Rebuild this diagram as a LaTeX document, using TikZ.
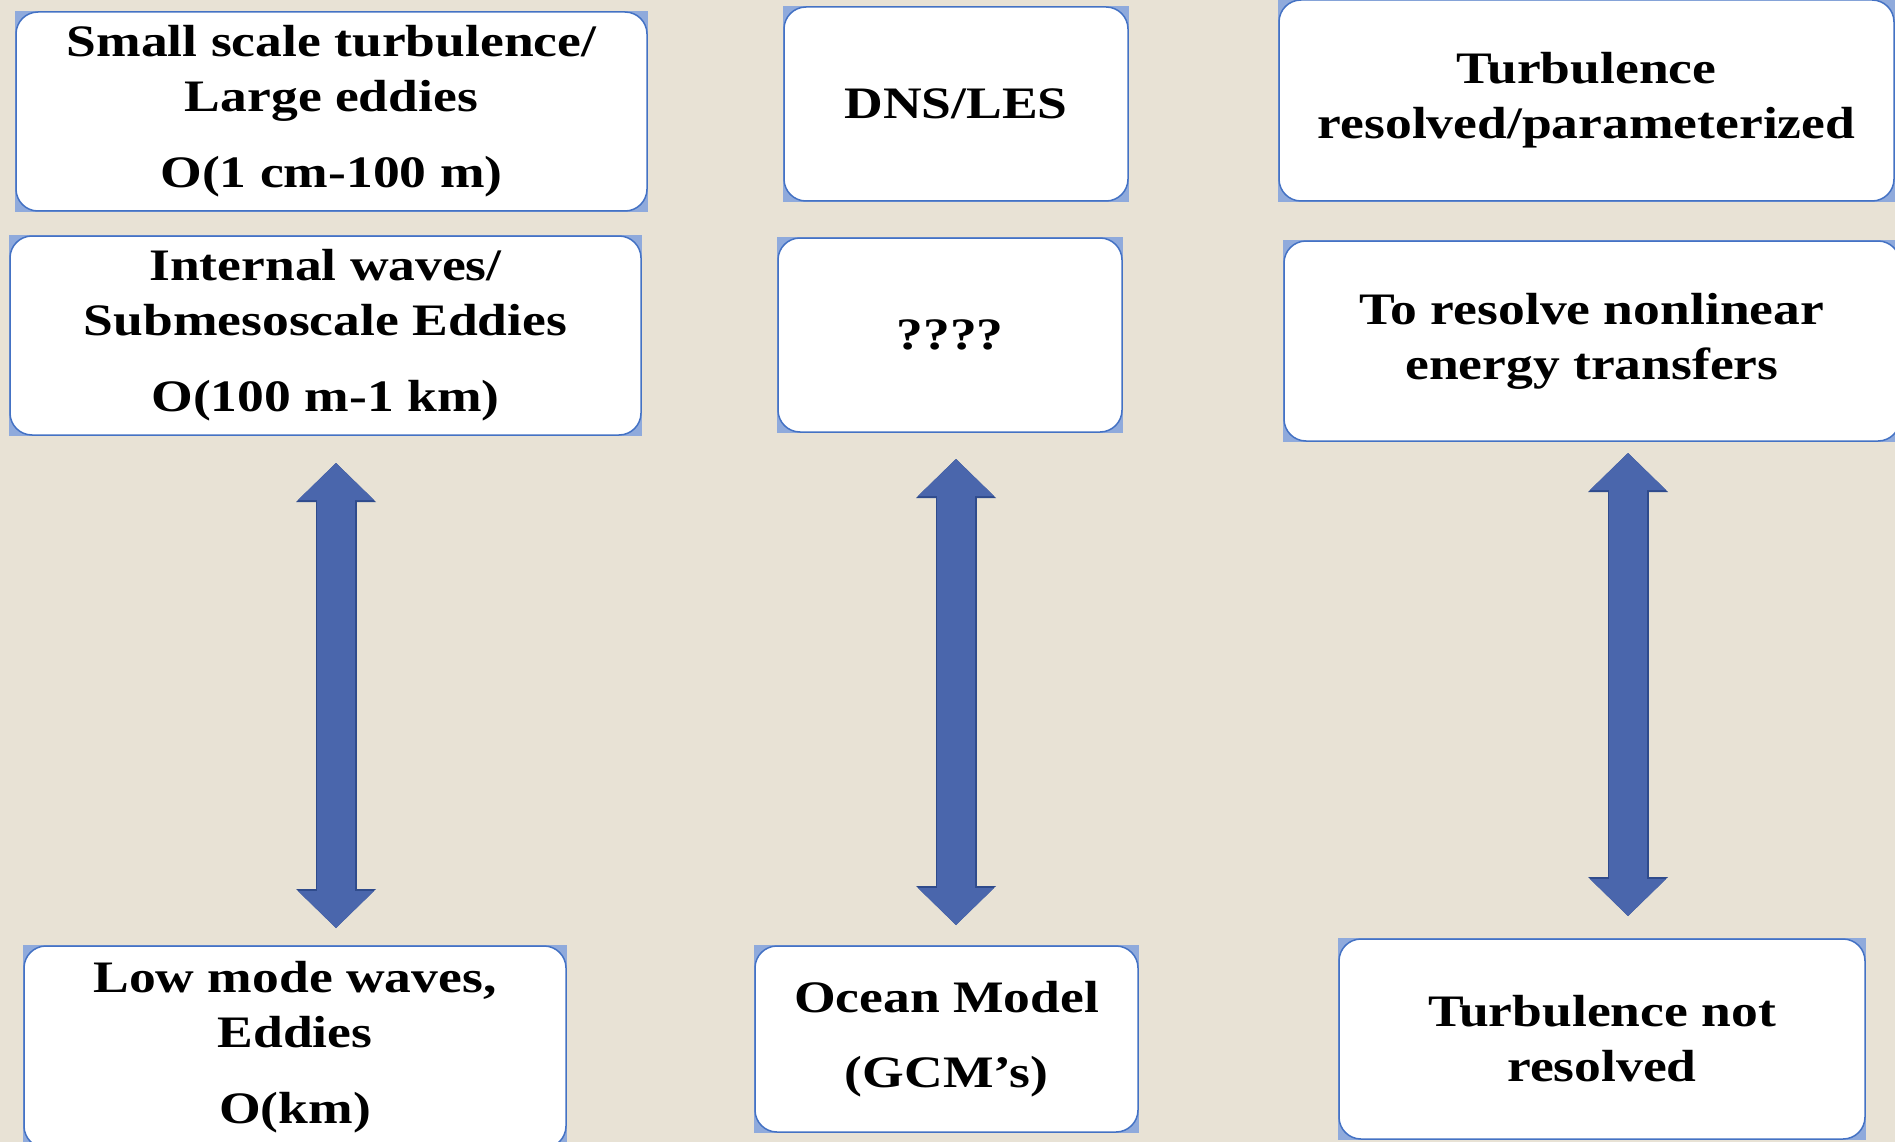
\documentclass[tikz,border=0pt]{standalone}
\usepackage{fontspec}
\setmainfont{Liberation Serif}[FakeStretch=1.19]
\usetikzlibrary{positioning, arrows.meta, backgrounds}
\definecolor{bgbeige}{HTML}{E8E2D5}
\definecolor{boxedge}{HTML}{4472C4}
\definecolor{boxcorner}{HTML}{8FAADC}
\definecolor{arrowfill}{HTML}{4A66AC}
\definecolor{arrowedge}{HTML}{2F4B8C}

\begin{document}
\begin{tikzpicture}[x=1pt, y=-1pt, main/.style = {draw=boxedge, fill=white,
                        line width=1.5pt, rounded corners=22pt, align=center,
                        font=\bfseries\fontsize{45}{55}\selectfont},
                    bigarrow/.style = {draw=arrowfill, line width=38pt,
                        {Triangle[width=76pt, length=37pt, line width=0pt]}-{Triangle[width=76pt, length=37pt, line width=0pt]},
                        preaction={draw=arrowedge, line width=41pt,
                        {Triangle[width=80pt, length=39pt, line width=0pt]}-{Triangle[width=80pt, length=39pt, line width=0pt]}}}]
        \useasboundingbox (0,0) rectangle (1895,1142);

        \node[main, minimum width=631pt, minimum height=199pt] (small) at (331.5,111.5) {Small scale turbulence/\\Large eddies\\[21pt]O(1 cm-100 m)};
        \node[main, minimum width=631pt, minimum height=199pt] (iwaves) at (325.5,335.5) {Internal waves/\\Submesoscale Eddies\\[21pt]O(100 m-1 km)};
        \node[main, minimum width=542pt, minimum height=202pt] (lowmode) at (295,1047) {Low mode waves,\\Eddies\\[21pt]O(km)};
        \node[main, minimum width=344pt, minimum height=194pt] (dnsles) at (956,104) {DNS/LES};
        \node[main, minimum width=344pt, minimum height=194pt] (unknown) at (950,335) {????};
        \node[main, minimum width=383pt, minimum height=186pt] (ocean) at (946.5,1039) {Ocean Model\\[20pt](GCM’s)};
        \node[main, minimum width=615pt, minimum height=201pt] (turbres) at (1586.5,100.5) {Turbulence\\resolved/parameterized};
        \node[main, minimum width=616pt, minimum height=200pt] (nonlin) at (1592,341) {To resolve nonlinear\\energy transfers};
        \node[main, minimum width=526pt, minimum height=200pt] (turbnot) at (1602,1039) {Turbulence not\\resolved};

        \coordinate (up1) at (336,463);
        \coordinate (down1) at (336,928);
        \coordinate (up2) at (956,459);
        \coordinate (down2) at (956,925);
        \coordinate (up3) at (1628,453);
        \coordinate (down3) at (1628,916);
        \foreach \i in {1,2,3}
            \draw[bigarrow] (up\i) -- (down\i);

        \begin{scope}[on background layer]
            \fill[bgbeige] (0,0) rectangle (1895,1142);
            \foreach \n in {small, iwaves, lowmode, dnsles, unknown, ocean, turbres, nonlin, turbnot}
                \fill[boxcorner] (\n.south west) rectangle (\n.north east);
        \end{scope}
    \end{tikzpicture}
\end{document}
